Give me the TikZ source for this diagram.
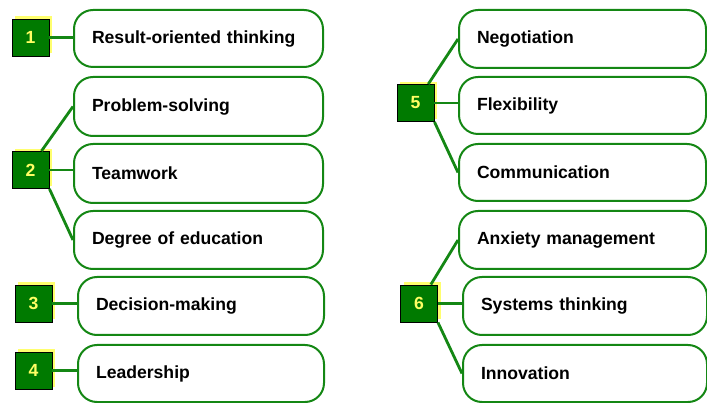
\documentclass[tikz,border=0pt]{standalone}
\usepackage{fontspec}
\setmainfont{Liberation Sans}
\usetikzlibrary{shadows}
\definecolor{lgreen}{RGB}{20,135,20}
\definecolor{sqgreen}{RGB}{0,122,0}
\definecolor{numyellow}{RGB}{255,255,100}
\definecolor{shyellow}{RGB}{255,255,110}
\begin{document}
\begin{tikzpicture}[x=1pt,y=-1pt,
  every node/.style={font=\fontsize{17.6}{20}\selectfont\bfseries},
  box/.style={draw=lgreen, line width=2pt, rounded corners=19pt, fill=white,
    anchor=north west, inner xsep=18pt, inner ysep=0pt, align=left},
  numsq/.style={draw=black, line width=0.9pt, fill=sqgreen, text=numyellow,
    minimum width=37pt, minimum height=37pt, inner sep=0pt,
    drop shadow={shadow xshift=3pt, shadow yshift=2.5pt, fill=shyellow, opacity=1}},
  conn/.style={draw=lgreen, line width=2.8pt}]
\useasboundingbox (0,0) rectangle (707,403);
% left boxes
\node[box, text width=213pt, minimum height=57pt] (b1) at (73,9) {Result-oriented thinking};
\node[box, text width=213pt, minimum height=59pt] (b2a) at (73,76) {Problem-solving};
\node[box, text width=213pt, minimum height=59pt] (b2b) at (73,143) {Teamwork};
\node[box, text width=213pt, minimum height=58pt] (b2c) at (73,210) {Degree of education};
\node[box, text width=210pt, minimum height=58pt] (b3) at (77,276) {Decision-making};
\node[box, text width=210pt, minimum height=57pt] (b4) at (77,344) {Leadership};
% right boxes
\node[box, text width=211pt, minimum height=58pt] (b5a) at (458,9) {Negotiation};
\node[box, text width=211pt, minimum height=57pt] (b5b) at (458,76) {Flexibility};
\node[box, text width=211pt, minimum height=57pt] (b5c) at (458,143) {Communication};
\node[box, text width=211pt, minimum height=58pt] (b6a) at (458,210) {Anxiety management};
\node[box, text width=208pt, minimum height=58pt] (b6b) at (462,276) {Systems thinking};
\node[box, text width=208pt, minimum height=57pt] (b6c) at (462,344) {Innovation};
% number squares
\node[numsq] (s1) at (30.5,37.5) {1};
\node[numsq] (s2) at (30.5,170) {2};
\node[numsq] (s3) at (33.5,303.5) {3};
\node[numsq] (s4) at (33.5,370.5) {4};
\node[numsq] (s5) at (415.5,103) {5};
\node[numsq] (s6) at (419,303.5) {6};
% connectors
\draw[conn] (s1.east) -- (s1.east -| b1.west);
\draw[conn] (s2.60) -- (b2a.west);
\draw[conn] (s2.east) -- (s2.east -| b2b.west);
\draw[conn] (s2.south east) -- (b2c.west);
\draw[conn] (s3.east) -- (s3.east -| b3.west);
\draw[conn] (s4.east) -- (s4.east -| b4.west);
\draw[conn] (s5.56) -- (b5a.west);
\draw[conn] (s5.east) -- (s5.east -| b5b.west);
\draw[conn] (s5.south east) -- (b5c.west);
\draw[conn] (s6.58) -- (b6a.west);
\draw[conn] (s6.east) -- (s6.east -| b6b.west);
\draw[conn] (s6.south east) -- (b6c.west);
\end{tikzpicture}
\end{document}
